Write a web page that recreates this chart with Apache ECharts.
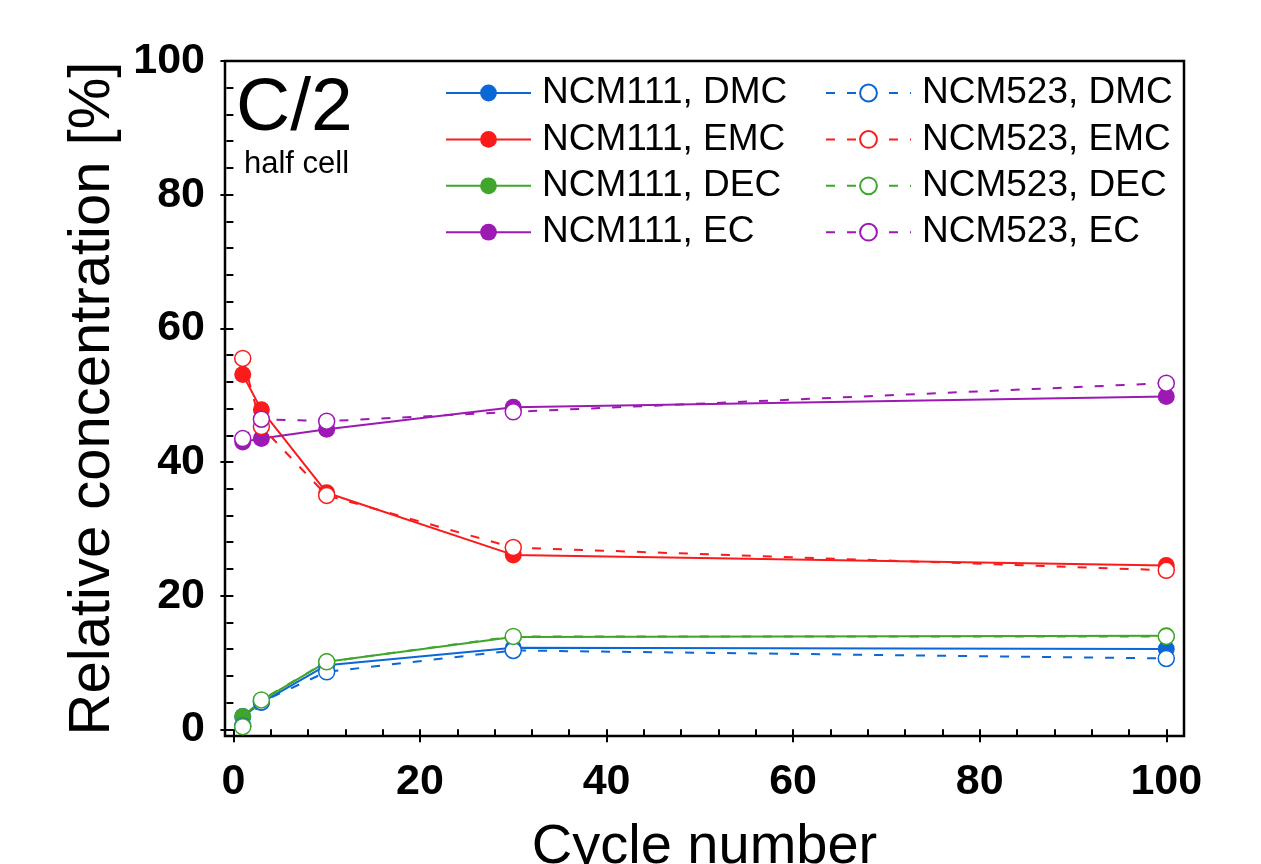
<!DOCTYPE html>
<html>
<head>
<meta charset="utf-8">
<script src="https://cdn.jsdelivr.net/npm/echarts@6/dist/echarts.min.js"></script>
<style>
  html, body { margin: 0; padding: 0; background: #fff; }
  #chart { width: 1261px; height: 864px; }
</style>
</head>
<body>
<div id="chart"></div>
<script>
  // cycle numbers
  const cycles = [1, 3, 10, 30, 100]

  // NCM111 (filled, solid)
  const ncm111Dmc = [1.9, 4.0, 9.6, 12.2, 12.0]
  const ncm111Emc = [53.1, 47.8, 35.4, 26.1, 24.5]
  const ncm111Dec = [1.9, 4.3, 10.1, 13.8, 14.0]
  const ncm111Ec = [43.0, 43.5, 44.9, 48.2, 49.8]

  // NCM523 (open, dashed)
  const ncm523Dmc = [0.5, 4.1, 8.6, 11.8, 10.6]
  const ncm523Emc = [55.5, 45.3, 35.0, 27.2, 23.8]
  const ncm523Dec = [0.4, 4.4, 10.1, 13.9, 13.9]
  const ncm523Ec = [43.5, 46.4, 46.1, 47.5, 51.8]

  // tick labels
  const xMajor = [0, 20, 40, 60, 80, 100]
  const yMajor = [0, 20, 40, 60, 80, 100]
  const xMinor = [0, 4, 8, 12, 16, 20, 24, 28, 32, 36, 40, 44, 48, 52, 56, 60, 64, 68, 72, 76, 80, 84, 88, 92, 96, 100]
  const yMinor = [0, 4, 8, 12, 16, 20, 24, 28, 32, 36, 40, 44, 48, 52, 56, 60, 64, 68, 72, 76, 80, 84, 88, 92, 96, 100]

  const colors = {
    DMC: '#0b66d6',
    EMC: '#fb1b1b',
    DEC: '#3fa62b',
    EC: '#9c19b4'
  }

  const font = 'Liberation Sans, Arial, sans-serif'

  function pairs(vals) {
    return cycles.map((c, i) => [c, vals[i]])
  }

  function filled(name, vals, color) {
    return {
      name,
      type: 'line',
      data: pairs(vals),
      symbol: 'circle',
      symbolSize: 17,
      z: 2,
      lineStyle: { color, width: 2, type: 'solid' },
      itemStyle: { color, borderWidth: 0 },
      animation: false
    }
  }

  function open(name, vals, color) {
    return {
      name,
      type: 'line',
      data: pairs(vals),
      symbol: 'circle',
      symbolSize: 16,
      z: 3,
      lineStyle: { color, width: 2, type: [9, 12] },
      itemStyle: { color: '#fff', borderColor: color, borderWidth: 1.5 },
      animation: false
    }
  }

  const chart = echarts.init(document.getElementById('chart'))

  const legendBase = {
    orient: 'vertical',
    padding: 0,
    itemWidth: 85,
    itemHeight: 21,
    itemGap: 6.4,
    selectedMode: false,
    textStyle: {
      fontFamily: font,
      fontSize: 37,
      color: '#000',
      lineHeight: 40,
      padding: [0, 0, 0, 6]
    }
  }

  const grid = {
    left: 225, right: 77, top: 61, bottom: 128,
    outerBoundsMode: 'none',
    containLabel: false,
    show: true, borderColor: '#000', borderWidth: 2.5, backgroundColor: 'transparent'
  }

  chart.setOption({
    backgroundColor: '#fff',
    grid,
    legend: [
      Object.assign({}, legendBase, {
        left: 445,
        top: 73,
        data: ['NCM111, DMC', 'NCM111, EMC', 'NCM111, DEC', 'NCM111, EC']
      }),
      Object.assign({}, legendBase, {
        left: 825,
        top: 73,
        data: ['NCM523, DMC', 'NCM523, EMC', 'NCM523, DEC', 'NCM523, EC']
      })
    ],
    graphic: [
      {
        type: 'text',
        left: 236,
        top: 72,
        style: { text: 'C/2', fontFamily: font, fontSize: 75, fill: '#000' }
      },
      {
        type: 'text',
        left: 244,
        top: 149,
        style: { text: 'half cell', fontFamily: font, fontSize: 31, fill: '#000' }
      }
    ],
    xAxis: [
      {
        type: 'value',
        min: -0.9,
        max: 101.9,
        name: 'Cycle number',
        nameLocation: 'middle',
        nameGap: 84,
        nameTextStyle: { fontFamily: font, fontSize: 56, color: '#000' },
        axisLine: { show: false },
        splitLine: { show: false },
        axisTick: { show: true, inside: false, length: 13, customValues: xMajor, lineStyle: { color: '#000', width: 2 } },
        axisLabel: { customValues: xMajor, margin: 25, fontFamily: font, fontSize: 43, fontWeight: 'bold', color: '#000' }
      },
      {
        type: 'value',
        min: -0.9,
        max: 101.9,
        position: 'bottom',
        axisLine: { show: false },
        splitLine: { show: false },
        axisLabel: { show: false },
        axisTick: { show: true, inside: false, length: 7, customValues: xMinor, lineStyle: { color: '#000', width: 2 } }
      }
    ],
    yAxis: [
      {
        type: 'value',
        min: -1,
        max: 100,
        name: 'Relative concentration [%]',
        nameLocation: 'middle',
        nameGap: 97,
        nameTextStyle: { fontFamily: font, fontSize: 58, color: '#000' },
        axisLine: { show: false },
        splitLine: { show: false },
        axisTick: { show: true, inside: false, length: 13, customValues: yMajor, lineStyle: { color: '#000', width: 2 } },
        axisLabel: { customValues: yMajor, margin: 20, fontFamily: font, fontSize: 43, fontWeight: 'bold', color: '#000' }
      },
      {
        type: 'value',
        min: -1,
        max: 100,
        position: 'left',
        offset: 0,
        axisLine: { show: false },
        splitLine: { show: false },
        axisLabel: { show: false },
        axisTick: { show: true, inside: false, length: 7, customValues: yMinor, lineStyle: { color: '#000', width: 2 } }
      }
    ],
    series: [
      filled('NCM111, DMC', ncm111Dmc, colors.DMC),
      filled('NCM111, EMC', ncm111Emc, colors.EMC),
      filled('NCM111, DEC', ncm111Dec, colors.DEC),
      filled('NCM111, EC', ncm111Ec, colors.EC),
      open('NCM523, DMC', ncm523Dmc, colors.DMC),
      open('NCM523, EMC', ncm523Emc, colors.EMC),
      open('NCM523, DEC', ncm523Dec, colors.DEC),
      open('NCM523, EC', ncm523Ec, colors.EC)
    ]
  })
</script>
</body>
</html>
